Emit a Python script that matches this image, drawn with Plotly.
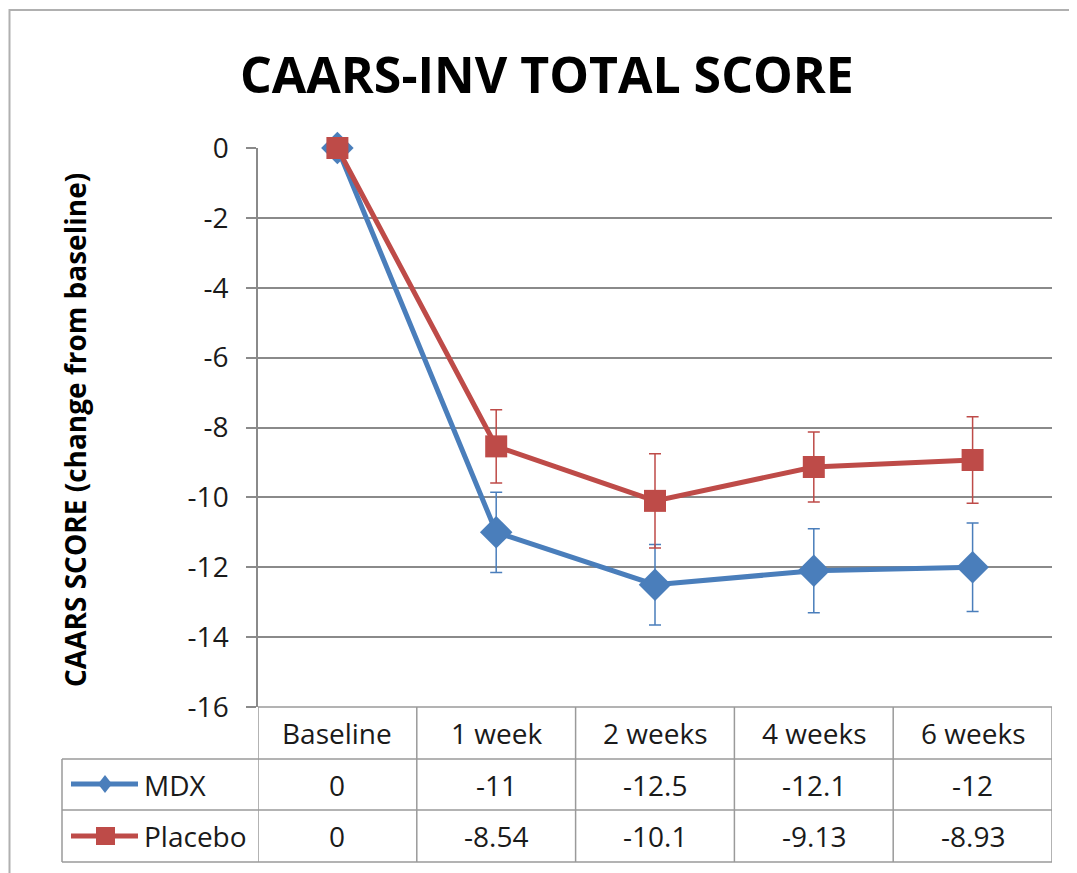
import plotly.graph_objects as go

# ---- data ----
categories = ["Baseline", "1 week", "2 weeks", "4 weeks", "6 weeks"]
mdx = [0, -11, -12.5, -12.1, -12]
placebo = [0, -8.54, -10.1, -9.13, -8.93]
mdx_err = [0, 1.15, 1.15, 1.2, 1.27]
placebo_err = [0, 1.05, 1.35, 1.0, 1.24]
series_names = ["MDX", "Placebo"]
title_text = "CAARS-INV TOTAL SCORE"
ytitle_text = "CAARS SCORE (change from baseline)"
y_ticks = [0, -2, -4, -6, -8, -10, -12, -14, -16]

W, H = 1077, 873
OFF = 8  # page body margin
BLUE = "#4A7EBB"
RED = "#BE4B48"
GRID = "#8A8A8A"
FONT = "Open Sans"


def px(x):
    return (x - OFF) / W


def py(y):
    return 1 - (y - OFF) / H


# plot area in screen pixels
L, R, T, B = 258, 1052, 148, 707
xi = list(range(len(categories)))

fig = go.Figure()
fig.add_trace(go.Scatter(
    x=xi, y=mdx, mode="lines+markers", name=series_names[0],
    line=dict(color=BLUE, width=5),
    marker=dict(symbol="diamond", size=25, color=BLUE),
    error_y=dict(type="data", array=mdx_err, visible=True, color=BLUE,
                 thickness=1.5, width=6),
    showlegend=False, cliponaxis=False,
))
fig.add_trace(go.Scatter(
    x=xi, y=placebo, mode="lines+markers", name=series_names[1],
    line=dict(color=RED, width=5),
    marker=dict(symbol="square", size=22, color=RED),
    error_y=dict(type="data", array=placebo_err, visible=True, color=RED,
                 thickness=1.5, width=6),
    showlegend=False, cliponaxis=False,
))

shapes = []
# outer chart border
shapes.append(dict(type="rect", xref="paper", yref="paper",
                   x0=px(9.5), x1=px(1100), y0=py(10), y1=py(900),
                   line=dict(color="#B0B0B0", width=2)))
line_style = dict(color="#9A9A9A", width=1.5)
# table horizontal lines
row_lines = [707, 759, 810, 862]
for i, yy in enumerate(row_lines):
    x0 = L if i == 0 else 62
    shapes.append(dict(type="line", xref="paper", yref="paper",
                       x0=px(x0), x1=px(R), y0=py(yy), y1=py(yy), line=line_style))
# table vertical lines at category boundaries
for k in range(len(categories) + 1):
    shapes.append(dict(type="line", xref="x", yref="paper",
                       x0=k - 0.5, x1=k - 0.5, y0=py(707), y1=py(862), line=line_style))
shapes.append(dict(type="line", xref="paper", yref="paper",
                   x0=px(62), x1=px(62), y0=py(759), y1=py(862), line=line_style))

# legend keys inside the table
key_rows = [(BLUE, 784, "diamond"), (RED, 836, "square")]
for color, yy, sym in key_rows:
    shapes.append(dict(type="line", xref="paper", yref="paper",
                       x0=px(71), x1=px(138), y0=py(yy), y1=py(yy),
                       line=dict(color=color, width=5)))
    if sym == "diamond":
        path = (f"M {px(105)},{py(yy-9)} L {px(112)},{py(yy)} "
                f"L {px(105)},{py(yy+9)} L {px(98)},{py(yy)} Z")
    else:
        path = (f"M {px(96)},{py(yy-9)} L {px(115)},{py(yy-9)} "
                f"L {px(115)},{py(yy+9)} L {px(96)},{py(yy+9)} Z")
    shapes.append(dict(type="path", xref="paper", yref="paper", path=path,
                       fillcolor=color, line=dict(color=color, width=0)))

annotations = []
cell_font = dict(family=FONT, size=28, color="#1a1a1a")
for k, c in enumerate(categories):
    annotations.append(dict(x=k, y=py(733), xref="x", yref="paper", text=c,
                            showarrow=False, font=cell_font, xanchor="center", yanchor="middle"))
for vals, yy in [(mdx, 785), (placebo, 836)]:
    for k, v in enumerate(vals):
        annotations.append(dict(x=k, y=py(yy), xref="x", yref="paper", text=f"{v:g}",
                                showarrow=False, font=cell_font, xanchor="center", yanchor="middle"))
for name, yy in zip(series_names, [785, 836]):
    annotations.append(dict(x=px(142), y=py(yy), xref="paper", yref="paper", text=name,
                            showarrow=False, font=cell_font, xanchor="left", yanchor="middle"))
# title
annotations.append(dict(x=px(547), y=py(74), xref="paper", yref="paper",
                        text=f"<b>{title_text}</b>", showarrow=False,
                        font=dict(family=FONT, size=50, color="#000000"),
                        xanchor="center", yanchor="middle"))
# y-axis title
annotations.append(dict(x=px(75), y=py(430), xref="paper", yref="paper",
                        text=f"<b>{ytitle_text}</b>", showarrow=False, textangle=-90,
                        font=dict(family=FONT, size=28, color="#000000"),
                        xanchor="center", yanchor="middle"))

fig.update_layout(
    width=W, height=H, autosize=False,
    margin=dict(l=0, r=0, t=0, b=0, pad=0, autoexpand=False),
    paper_bgcolor="white", plot_bgcolor="white",
    shapes=shapes, annotations=annotations,
    xaxis=dict(domain=[px(L), px(R)], range=[-0.5, len(categories) - 0.5],
               showgrid=False, zeroline=False, showticklabels=False, ticks="",
               showline=False, fixedrange=True, automargin=False),
    yaxis=dict(domain=[py(B), py(T)], range=[-16, 0], tickvals=y_ticks,
               ticktext=[f"{t:g}" for t in y_ticks],
               showgrid=True, gridcolor=GRID, gridwidth=1.5, zeroline=False,
               showline=True, linecolor=GRID, linewidth=1.5,
               ticks="outside", ticklen=10, tickcolor=GRID, tickwidth=1.5,
               tickfont=dict(family=FONT, size=28, color="#1a1a1a"),
               ticklabelstandoff=12, fixedrange=True, automargin=False),
    showlegend=False,
)

fig.write_html("out.html")
